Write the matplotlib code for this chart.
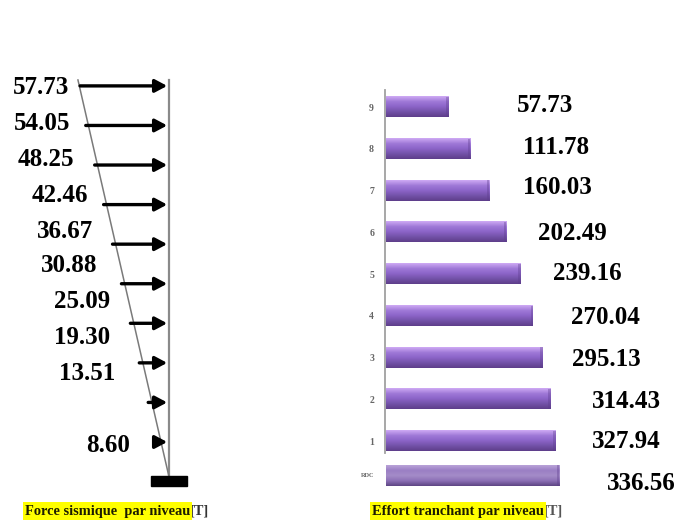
"""
Force sismique par niveau / effort tranchant par niveau (recreation).
"""

import numpy as np
import matplotlib
matplotlib.use("Agg")
import matplotlib.pyplot as plt
from matplotlib.patches import Rectangle
from matplotlib.colors import LinearSegmentedColormap

# ─── DATA ─────────────────────────────────────────────────────────────────────
levels = ["RDC", "1", "2", "3", "4", "5", "6", "7", "8", "9"]
forces = [8.60, 13.51, 19.30, 25.09, 30.88, 36.67, 42.46, 48.25, 54.05, 57.73]
shear  = [336.56, 327.94, 314.43, 295.13, 270.04, 239.16, 202.49, 160.03, 111.78, 57.73]

left_caption  = "Force sismique  par niveau"
right_caption = "Effort tranchant par niveau"
unit = "[T]"

# ─── STYLE / LAYOUT ───────────────────────────────────────────────────────────
W, H = 679, 531
SERIF = "Liberation Serif"
YELLOW = "#FFFF00"
GROUND = -0.88          # level index of the foundation
TOP = 9.15              # top of the structure line
BAR_ORIGIN = -101       # bars start at the left end of the value axis
BAR_POS = [0.18, 1, 2, 3, 4, 5, 6, 7, 8, 9]

# label anchors in figure pixels (x, y from the top), text is placed by hand
left_lbl = [(130, 445), (115, 373), (110, 338), (110, 302), (97, 265),
            (93, 231), (88, 195), (74, 159), (70, 123), (69, 87)]
right_lbl = [(607, 483), (592, 442), (592, 401), (572, 359), (571, 317),
             (553, 274), (538, 234), (523, 188), (523, 147), (517, 105)]

fig = plt.figure(figsize=(W / 100, H / 100), dpi=100)
fig.patch.set_facecolor("white")

# ══════════════════════════════════════════════════════════════════════════════
# LEFT — seismic force per level
# ══════════════════════════════════════════════════════════════════════════════
ax1 = fig.add_axes([0, 31 / H, 220 / W, 460 / H])
ax1.set_xlim(-109.7, 33.1)
ax1.set_ylim(-1.466, 10.16)
ax1.axis("off")

k = np.arange(len(forces))
ax1.plot([0, 0], [GROUND, TOP], color="#8a8a8a", lw=1.6, zorder=2)
ax1.plot([-59.1, 0], [TOP, GROUND], color="#7a7a7a", lw=1.1, zorder=2)
ax1.add_patch(Rectangle((-11.7, -1.11), 23.4, 0.25, color="black", zorder=3))

for f, y in zip(forces, k):
    ax1.annotate("", xy=(-1.2, y), xytext=(-f, y),
                 arrowprops=dict(arrowstyle="-|>,head_length=0.6,head_width=0.32",
                                 mutation_scale=12, lw=2.4, color="black",
                                 shrinkA=0, shrinkB=0),
                 zorder=4)

for f, (px, py) in zip(forces, left_lbl):
    ax1.annotate(f"{f:.2f}", xy=(px, H - py), xycoords="figure pixels",
                 ha="right", va="center", fontsize=18, fontweight="bold",
                 family=SERIF, color="black")

# ══════════════════════════════════════════════════════════════════════════════
# RIGHT — shear force per level
# ══════════════════════════════════════════════════════════════════════════════
ax2 = fig.add_axes([340 / W, 31 / H, 339 / W, 440 / H])
bar_cmap = LinearSegmentedColormap.from_list(
    "cyl", ["#cfaaf4", "#a07ad8", "#8c64c8", "#7352a8", "#5e3e8a"])
rdc_cmap = LinearSegmentedColormap.from_list(
    "cyl_rdc", ["#b9a2d8", "#9a7fc4", "#a48cc8", "#8c70b6", "#5e4684"])

heights = [0.5] + [0.48] * 9
bars = ax2.barh(BAR_POS, np.array(shear) - BAR_ORIGIN, left=BAR_ORIGIN,
                height=heights, color="#9470d0", zorder=2)
grad = np.linspace(0, 1, 64).reshape(-1, 1)
for i, b in enumerate(bars):
    x0, y0, bw, bh = b.get_x(), b.get_y(), b.get_width(), b.get_height()
    ax2.imshow(grad, cmap=rdc_cmap if i == 0 else bar_cmap, aspect="auto",
               extent=(x0, x0 + bw, y0, y0 + bh), origin="upper", zorder=3)
    # darker rounded end cap
    ax2.add_patch(Rectangle((x0 + bw - 6, y0), 6, bh, color="#5c3c8c",
                            alpha=0.35, lw=0, zorder=4))

ax2.set_xlim(-217.2, 638.9)
ax2.set_ylim(-0.413, 10.126)
for s in ["top", "right", "bottom"]:
    ax2.spines[s].set_visible(False)
ax2.spines["left"].set_position(("data", BAR_ORIGIN - 2))
ax2.spines["left"].set_bounds(0.71, 9.41)
ax2.spines["left"].set_color("#a0a0a0")
ax2.spines["left"].set_linewidth(1.3)
ax2.set_xticks([])
ax2.set_yticks(BAR_POS)
ax2.set_yticklabels(levels, family=SERIF, fontweight="bold", color="#666666",
                    fontsize=7)
ax2.get_yticklabels()[0].set_fontsize(4.5)
ax2.tick_params(axis="y", length=0, pad=8)

for v, (px, py) in zip(shear, right_lbl):
    ax2.annotate(f"{v:.2f}", xy=(px, H - py), xycoords="figure pixels",
                 ha="left", va="center", fontsize=18, fontweight="bold",
                 family=SERIF, color="black")

# ─── captions ─────────────────────────────────────────────────────────────────
for txt, x0, ucolor in [(left_caption, 25, "#333333"),
                        (right_caption, 372, "#555555")]:
    t = fig.text(x0 / W, 1 - 511 / H, txt, ha="left", va="center",
                 fontsize=10.4, fontweight="bold", family=SERIF, color="#1c1c00",
                 bbox=dict(boxstyle="square,pad=0.15", fc=YELLOW, ec="none"))
    fig.canvas.draw()
    ax1.annotate(unit, xy=(1, 0.5), xycoords=t, ha="left", va="center",
                 fontsize=10.4, fontweight="bold", family=SERIF, color=ucolor,
                 annotation_clip=False)

fig.savefig("out.png", dpi=100)
